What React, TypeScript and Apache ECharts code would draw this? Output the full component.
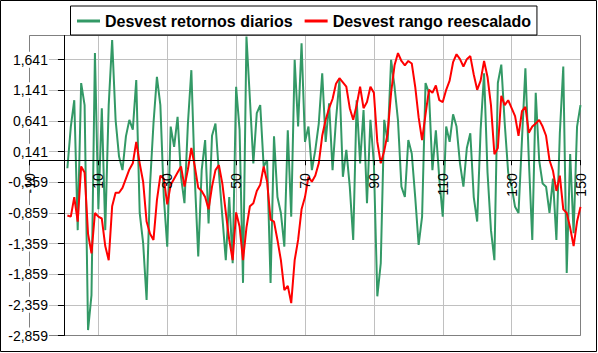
import React, { useEffect, useRef } from "react";
import * as echarts from "echarts";

// Day index (x) for each point
const dias: number[] = Array.from({ length: 150 }, (_, i) => i + 1);

// Desvest retornos diarios (green)
const retornos: number[] = [
  -0.13, 0.55, 0.98, -1.14, 1.26, 0.9, -2.77, -2.2, 1.75, -0.8,
  0.85, -1.14, 0.9, 1.96, 0.66, 0.06, -0.16, 0.39, 0.66, 0.5,
  1.31, -0.86, -1.35, -2.28, -0.4, 0.6, 1.36, 0.9, -0.6, -1.41,
  0.55, 0.22, 0.71, -0.27, -0.7, 0.6, 1.47, -0.3, -1.57, -0.16,
  0.33, -1.03, 0.4, 0.6, -0.2, -0.92, -1.63, -0.6, -1.68, 1.2,
  0.5, -2.0, 2.02, 1.0, -0.05, 0.77, 0.9, -0.1, 0.0, -2.0,
  0.39, -0.6, -0.86, -1.41, 0.49, -0.92, 1.64, 0.55, 1.91, 0.3,
  0.55, -0.16, 0.17, 0.6, 1.42, 0.3, 0.93, -0.16, 0.66, 1.31,
  -0.27, 0.17, -0.43, -1.3, 0.98, -0.05, 0.82, -0.7, 0.66, -0.05,
  -2.22, -1.68, 0.66, 0.3, 1.64, 1.2, 0.65, -0.43, -0.6, 0.33,
  0.11, -0.6, -1.38, -0.92, 1.26, 1.1, -0.16, 0.49, -0.3, -0.92,
  0.55, 0.3, 0.75, 0.55, -0.05, -0.43, 0.2, 0.44, -0.6, -1.0,
  0.5, 1.42, -0.2, -1.14, -1.63, 1.26, 1.56, 0.6, -0.2, -0.43,
  -0.76, -0.86, 0.33, 1.5, 0.0, -1.3, 1.1, 0.0, -0.38, -0.43,
  -0.86, -0.3, -1.3, 0.44, 1.53, -1.84, 0.1, -1.19, 0.55, 0.9,
];

// Desvest rango reescalado (red)
const rango: number[] = [
  -0.9, -0.92, -0.6, -1.0, -0.1, -0.2, -1.2, -1.52, -0.86, -0.92,
  -0.95, -1.4, -1.63, -0.75, -0.53, -0.53, -0.45, -0.3, -0.15, -0.05,
  0.3, -0.05, -0.35, -1.0, -1.2, -1.3, -0.65, -0.25, -0.3, -0.72,
  -0.4, -0.3, -0.2, -0.1, -0.43, -0.15, 0.2, -0.1, -0.45, -0.5,
  -0.6, -0.8, -0.43, -0.16, -0.08, -0.38, -0.85, -1.3, -1.63, -0.85,
  -1.08, -1.63, -1.1, -0.75, -0.7, -0.5, -0.4, -0.1, -0.35, -0.97,
  -1.0, -1.3, -1.63, -2.12, -2.05, -2.33, -1.63, -1.3, -0.8, -0.6,
  -0.27, -0.35, -0.25, -0.05, 0.4, 0.66, 0.85, 1.0, 1.25, 1.34,
  1.27, 1.2, 0.85, 0.66, 0.9, 1.2, 0.85, 0.95, 1.2, 1.1,
  0.3, -0.05, 0.15, 0.44, 1.1, 1.55, 1.75, 1.62, 1.55, 1.62,
  1.58, 1.2, 0.7, 0.33, 0.75, 1.15, 1.1, 1.22, 0.98, 0.95,
  1.15, 1.3, 1.6, 1.73, 1.65, 1.53, 1.65, 1.7, 1.4, 1.15,
  1.3, 1.62, 1.36, 0.9, 0.1, 0.2, 1.05, 0.9, 0.98, 0.85,
  0.72, 0.4, 0.8, 0.87, 0.45, 0.55, 0.6, 0.66, 0.55, 0.4,
  0.0, -0.17, -0.5, -0.25, -0.8, -0.86, -1.1, -1.4, -1.0, -0.76,
];

const seriesNames = ["Desvest retornos diarios", "Desvest rango reescalado"];
const seriesColors = ["#339966", "#ff0000"];

// Axis scale settings
const X_MIN = -10;
const X_MAX = 150;
const X_STEP = 20;
const Y_MIN = -2.859;
const Y_MAX = 2.036;
const Y_STEP = 0.5;

const FONT = "'Liberation Sans', Arial, sans-serif";

// Plot frame (pixels)
const GRID_LEFT = 29.5;
const GRID_TOP = 35.5;
const GRID_W = 551;
const GRID_H = 300;

export default function App() {
  const ref = useRef<HTMLDivElement>(null);

  useEffect(() => {
    document.body.style.margin = "0";
    const chart = echarts.init(ref.current!, null, { renderer: "svg" });
    const fmtY = (v: number) => v.toFixed(3).replace(".", ",");

    // axes cross at zero: shift the axis from the frame edge to the zero position
    const yAxisShift = (GRID_W * (0 - X_MIN)) / (X_MAX - X_MIN);
    const xAxisShift = (GRID_H * (0 - Y_MIN)) / (Y_MAX - Y_MIN);

    const baseX = { type: "value", min: X_MIN, max: X_MAX, interval: X_STEP };
    const baseY = { type: "value", min: Y_MIN, max: Y_MAX, interval: Y_STEP };

    const option: any = {
      animation: false,
      backgroundColor: "#ffffff",
      textStyle: { fontFamily: FONT },
      grid: {
        left: GRID_LEFT,
        top: GRID_TOP,
        width: GRID_W,
        height: GRID_H,
        show: false,
        containLabel: false,
        outerBoundsMode: "none",
      },
      legend: {
        left: 70.5,
        top: 6,
        padding: [7, 6, 6, 6.5],
        itemGap: 12,
        itemWidth: 23,
        itemHeight: 3,
        borderColor: "#000",
        borderWidth: 1,
        backgroundColor: "#fff",
        z: 6,
        textStyle: { fontSize: 16, fontWeight: "bold", color: "#000", fontFamily: FONT },
        data: seriesNames.map((n) => ({ name: n, icon: "rect" })),
      },
      xAxis: [
        {
          ...baseX,
          z: 4,
          position: "bottom",
          offset: -xAxisShift,
          axisLine: { onZero: false, lineStyle: { color: "#000", width: 1 } },
          axisTick: { show: true, length: 5, lineStyle: { color: "#000" } },
          axisLabel: {
            rotate: 90,
            margin: 13,
            fontSize: 14,
            color: "#000",
            fontFamily: FONT,
            showMinLabel: true,
            showMaxLabel: true,
            formatter: (v: number) => String(v),
          },
          splitLine: { show: false },
        },
        {
          ...baseX,
          z: 0,
          position: "top",
          axisLine: { show: false, onZero: false },
          axisTick: { show: false },
          axisLabel: { show: false },
          splitLine: { show: true, lineStyle: { color: "#c0c0c0", width: 1 } },
        },
      ],
      yAxis: [
        {
          ...baseY,
          z: 3,
          position: "left",
          offset: -yAxisShift,
          axisLine: { onZero: false, lineStyle: { color: "#000", width: 1 } },
          axisTick: { show: true, length: 6, lineStyle: { color: "#000" } },
          axisLabel: {
            margin: 15,
            fontSize: 14,
            color: "#000",
            fontFamily: FONT,
            backgroundColor: "#fff",
            padding: [1, 1, 1, 1],
            showMinLabel: true,
            showMaxLabel: false,
            formatter: fmtY,
          },
          splitLine: { show: false },
        },
        {
          ...baseY,
          z: 0,
          position: "right",
          axisLine: { show: false, onZero: false },
          axisTick: { show: false },
          axisLabel: { show: false },
          splitLine: { show: true, lineStyle: { color: "#c0c0c0", width: 1 } },
        },
      ],
      graphic: [
        {
          type: "rect",
          z: 1,
          silent: true,
          shape: { x: GRID_LEFT, y: GRID_TOP, width: GRID_W, height: GRID_H },
          style: { fill: "none", stroke: "#808080", lineWidth: 1 },
        },
        {
          type: "rect",
          z: 10,
          silent: true,
          shape: { x: 0.5, y: 0.5, width: 596, height: 351 },
          style: { fill: "none", stroke: "#000", lineWidth: 1 },
        },
      ],
      series: [retornos, rango].map((vals, k) => ({
        name: seriesNames[k],
        type: "line",
        xAxisIndex: 0,
        yAxisIndex: 0,
        z: 2,
        symbol: "none",
        showSymbol: false,
        clip: true,
        lineStyle: { color: seriesColors[k], width: 2 },
        itemStyle: { color: seriesColors[k] },
        data: dias.map((d, i) => [d, vals[i]]),
      })),
    };

    chart.setOption(option);
    return () => chart.dispose();
  }, []);

  return (
    <div
      ref={ref}
      style={{ position: "absolute", left: 0, top: 0, width: 598, height: 353 }}
    />
  );
}
